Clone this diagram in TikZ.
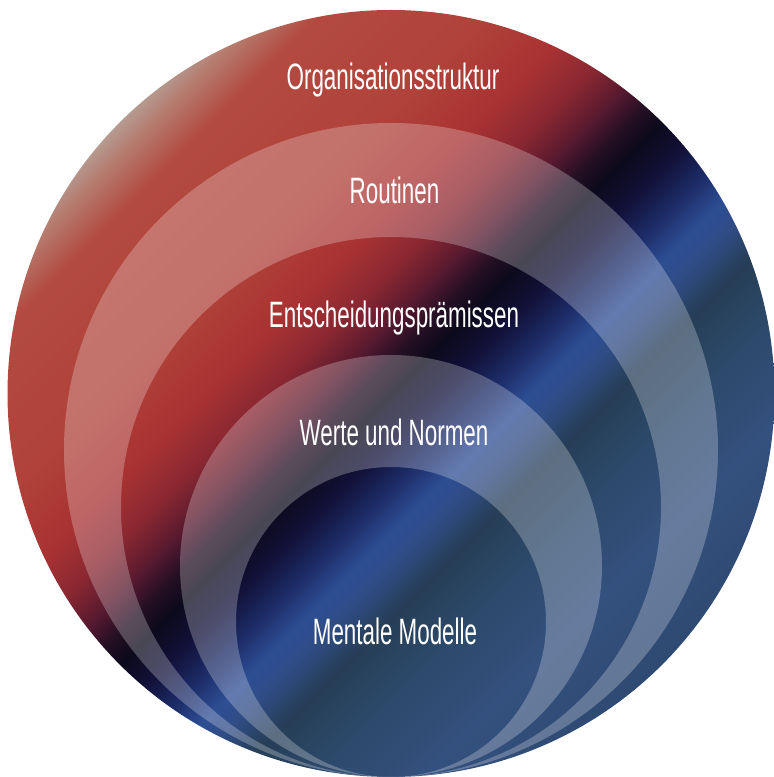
\documentclass[tikz,border=0pt]{standalone}
\usepackage{fontspec}
\newfontfamily\ringfont[FakeStretch=0.61]{Liberation Sans}

% red -> black -> blue, laid out along the diagonal
\definecolor{shA}{HTML}{B59A90}
\definecolor{shB}{HTML}{B57A6C}
\definecolor{shC}{HTML}{B34A40}
\definecolor{shD}{HTML}{B0423A}
\definecolor{shE}{HTML}{A83232}
\definecolor{shF}{HTML}{8A2832}
\definecolor{shF2}{HTML}{5A1A30}
\definecolor{shG}{HTML}{261024}
\definecolor{shH}{HTML}{0C0A1C}
\definecolor{shI}{HTML}{121038}
\definecolor{shJ}{HTML}{1C2C68}
\definecolor{shK}{HTML}{2E4E94}
\definecolor{shL}{HTML}{2F4C84}
\definecolor{shM}{HTML}{263E56}
\definecolor{shN}{HTML}{2C4868}
\definecolor{shO}{HTML}{34507E}
\definecolor{shP}{HTML}{2E4A72}

\pgfdeclarehorizontalshading{ringshade}{100bp}{%
  color(0bp)=(shA); color(24.9bp)=(shA); color(26.5bp)=(shB);
  color(29.1bp)=(shC); color(36.9bp)=(shD); color(41.5bp)=(shE);
  color(44.3bp)=(shF); color(46.6bp)=(shF2); color(48.4bp)=(shG);
  color(50bp)=(shH); color(52.1bp)=(shI); color(54.4bp)=(shJ);
  color(56.5bp)=(shK); color(58.1bp)=(shL); color(60.4bp)=(shM);
  color(63.6bp)=(shN); color(69.2bp)=(shO); color(75.2bp)=(shP);
  color(100bp)=(shP)}

\tikzset{
  ringlabel/.style={text=white, anchor=base,
    font=\ringfont\fontsize{26.1pt}{30pt}\selectfont},
  lightring/.style={fill=white, fill opacity=0.25, even odd rule}
}

\begin{document}
\begin{tikzpicture}[x=0.25mm, y=0.25mm]
\useasboundingbox (0,0) rectangle (774,777);

% all circles touch at the bottom, one gradient for the whole disc
\shade[shading=ringshade, shading angle=-45] (391,383.5) circle (383.5);
\fill[lightring] (391,327) circle (327) (391,270) circle (270);
\fill[lightring] (391,211) circle (211) (391,155) circle (155);

\node[ringlabel] (struktur) at (393,687.7) {Organisationsstruktur};
\node[ringlabel] (routinen) at (394.5,573.7) {Routinen};
\node[ringlabel] (praemissen) at (394,449.7) {Entscheidungsprämissen};
\node[ringlabel] (werte) at (394,331) {Werte und Normen};
\node[ringlabel] (modelle) at (395,132) {Mentale Modelle};
\end{tikzpicture}
\end{document}
